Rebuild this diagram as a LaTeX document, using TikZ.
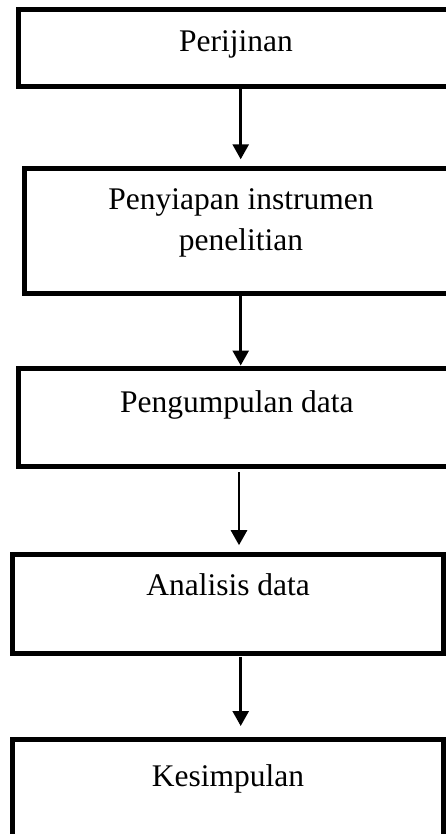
\documentclass[tikz,border=0pt]{standalone}
\usepackage{fontspec}
\setmainfont{Liberation Serif}
\usetikzlibrary{arrows.meta}
\tikzset{
  stepbox/.style={draw=black, line width=5pt, inner sep=0pt, align=center,
    font=\fontsize{31.5}{41.7}\selectfont, anchor=base},
  arr/.style={draw=black, line width=2.7pt, -{Triangle[width=16pt,length=15pt]}}
}
\begin{document}
\begin{tikzpicture}[x=1pt,y=-1pt]
\useasboundingbox (0,0) rectangle (446,834);
\clip (0,0) rectangle (446,834);
\fill[white] (0,0) rectangle (446,834);
% boxes: stroke centres given by geometry
\node[stepbox, minimum width=435pt, text height=42.2pt, text depth=34.8pt] (b1) at (236,51.7) {Perijinan};
\node[stepbox, minimum width=432.6pt, text height=82.8pt, text depth=42.7pt] (b2) at (241,251) {Penyiapan instrumen\\penelitian};
\node[stepbox, minimum width=437.2pt, text height=44.7pt, text depth=53.8pt] (b3) at (236.8,412.7) {Pengumpulan data};
\node[stepbox, minimum width=431.2pt, text height=41.5pt, text depth=57.6pt] (b4) at (228.1,595.7) {Analisis data};
\node[stepbox, minimum width=431.2pt, text height=46.8pt, text depth=100pt] (b5) at (228.1,786) {Kesimpulan};
% arrow columns
\coordinate (ax) at (240.7,0);
\coordinate (bx) at (239.0,0);
\draw[arr, shorten >=6.4pt] (b1.south -| ax) -- (b2.north -| ax);
\draw[arr] (b2.south -| ax) -- (b3.north -| ax);
\draw[arr, shorten <=3pt, shorten >=6.5pt] (b3.south -| bx) -- (b4.north -| bx);
\draw[arr, shorten <=1pt, shorten >=10.7pt] (b4.south -| ax) -- (b5.north -| ax);
\end{tikzpicture}
\end{document}
